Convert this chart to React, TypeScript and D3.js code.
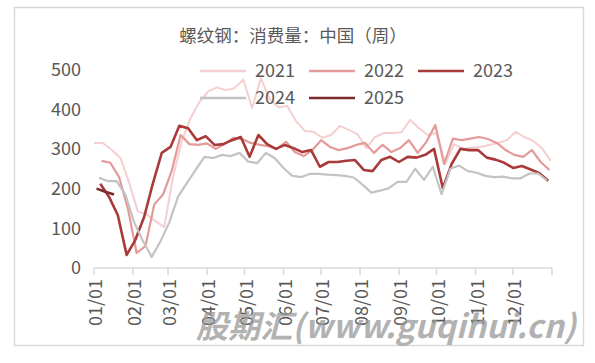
import React, { useEffect, useRef } from 'react';
import * as d3 from 'd3';

// weekly consumption, each year starts on its first Friday
const years = ['2021', '2022', '2023', '2024', '2025'];
const firstDates = ['2021-01-01', '2022-01-07', '2023-01-06', '2024-01-05', '2025-01-03'];
const colors = ['#f5cfcf', '#e39a99', '#a83a3a', '#c3c3c3', '#7a2b2b'];
const widths = [2, 2.2, 2.6, 2.2, 2.6];

const v2021 = [315, 315, 298, 278, 215, 142, 135, 118, 103, 230, 320, 378, 418, 445, 455, 448, 453, 475, 403, 478,
  425, 405, 408, 370, 345, 343, 328, 335, 358, 348, 337, 302, 330, 340, 340, 342, 373, 352, 335, 340,
  262, 312, 300, 303, 305, 310, 315, 322, 343, 330, 320, 302, 270];
const v2022 = [270, 265, 229, 150, 38, 55, 160, 185, 245, 335, 312, 310, 314, 300, 312, 328, 325, 315, 310, 307,
  300, 318, 292, 282, 297, 322, 305, 297, 302, 310, 315, 290, 310, 292, 302, 322, 290, 318, 360, 262,
  326, 322, 326, 330, 325, 315, 297, 285, 280, 297, 267, 247];
const v2023 = [212, 179, 133, 33, 71, 129, 214, 290, 305, 358, 352, 322, 332, 310, 312, 322, 330, 280, 335, 312,
  300, 310, 302, 292, 297, 255, 267, 267, 270, 272, 247, 244, 272, 280, 267, 280, 278, 285, 300, 201,
  262, 300, 297, 297, 278, 273, 265, 252, 257, 248, 239, 220];
const v2024 = [227, 219, 219, 185, 115, 68, 28, 67, 115, 180, 214, 247, 280, 277, 285, 282, 290, 268, 264, 290,
  277, 252, 232, 229, 237, 237, 235, 234, 232, 228, 210, 190, 195, 201, 217, 217, 250, 222, 255, 186,
  250, 258, 244, 240, 232, 229, 230, 226, 226, 238, 238, 220];
const v2025 = [200, 192, 185];
const seriesValues = [v2021, v2022, v2023, v2024, v2025];

const monthTicks = ['01/01', '02/01', '03/01', '04/01', '05/01', '06/01', '07/01', '08/01', '09/01', '10/01', '11/01', '12/01'];
const yTicks = [0, 100, 200, 300, 400, 500];

const title = '螺纹钢：消费量：中国（周）';
const watermark = '股期汇(www.guqihui.cn)';

const W = 595;
const H = 363;

const dayOfYear = (s: string) => {
  const d = new Date(s + 'T00:00:00Z');
  const start = Date.UTC(d.getUTCFullYear(), 0, 1);
  return Math.round((d.getTime() - start) / 86400000);
};

const App: React.FC = () => {
  const svgRef = useRef<SVGSVGElement>(null);

  useEffect(() => {
    if (!svgRef.current) return;
    const svg = d3.select(svgRef.current);
    svg.selectAll('*').remove();

    const font = '"Noto Sans CJK SC", "Noto Sans", sans-serif';
    const textColor = '#595959';

    const x = d3.scaleLinear().domain([0, 365]).range([94, 552]);
    const y = d3.scaleLinear().domain([0, 500]).range([268, 69.5]);

    // outer frame
    svg.append('rect')
      .attr('x', 14.5).attr('y', 7.5)
      .attr('width', 569).attr('height', 338)
      .attr('fill', '#fff')
      .attr('stroke', '#d9d9d9')
      .attr('stroke-width', 1.5);

    // title
    svg.append('text')
      .attr('x', 293).attr('y', 42)
      .attr('text-anchor', 'middle')
      .style('font-family', font)
      .style('font-size', '17.5px')
      .style('fill', textColor)
      .text(title);

    // y labels
    svg.selectAll('.ylab')
      .data(yTicks)
      .enter()
      .append('text')
      .attr('x', 81)
      .attr('y', d => y(d))
      .attr('dy', '0.35em')
      .attr('text-anchor', 'end')
      .style('font-family', font)
      .style('font-size', '18px')
      .style('fill', textColor)
      .text(d => d);

    // x axis
    const tickDays = monthTicks.map(m => dayOfYear('2021-' + m.replace('/', '-')));
    svg.append('line')
      .attr('x1', x(0)).attr('x2', x(365))
      .attr('y1', 268).attr('y2', 268)
      .attr('stroke', '#d9d9d9').attr('stroke-width', 1.5);
    svg.selectAll('.xtick')
      .data([...tickDays, 365])
      .enter()
      .append('line')
      .attr('x1', d => x(d)).attr('x2', d => x(d))
      .attr('y1', 268).attr('y2', 275)
      .attr('stroke', '#d9d9d9').attr('stroke-width', 1.5);
    svg.selectAll('.xlab')
      .data(monthTicks)
      .enter()
      .append('text')
      .attr('transform', (d, i) => `translate(${x(tickDays[i]) + 2},279) rotate(-90)`)
      .attr('dy', '0.35em')
      .attr('text-anchor', 'end')
      .style('font-family', font)
      .style('font-size', '18px')
      .style('fill', textColor)
      .text(d => d);

    // series lines
    const line = d3.line<[number, number]>()
      .x(d => x(d[0]))
      .y(d => y(d[1]));

    seriesValues.forEach((vals, si) => {
      const start = dayOfYear(firstDates[si]);
      const pts: [number, number][] = vals.map((v, i) => [start + i * 7, v]);
      svg.append('path')
        .datum(pts)
        .attr('d', line)
        .attr('fill', 'none')
        .attr('stroke', colors[si])
        .attr('stroke-width', widths[si])
        .attr('stroke-linejoin', 'round');
    });

    // legend
    const legendPos = [[200, 71], [309, 71], [418, 71], [200, 98], [309, 98]];
    years.forEach((yr, i) => {
      const [lx, ly] = legendPos[i];
      svg.append('line')
        .attr('x1', lx).attr('x2', lx + 46)
        .attr('y1', ly).attr('y2', ly)
        .attr('stroke', colors[i])
        .attr('stroke-width', 2.6);
      svg.append('text')
        .attr('x', lx + 55).attr('y', ly)
        .attr('dy', '0.35em')
        .style('font-family', font)
        .style('font-size', '18px')
        .style('fill', textColor)
        .text(yr);
    });

    // watermark
    svg.append('text')
      .attr('x', 196).attr('y', 338)
      .attr('textLength', 380)
      .attr('lengthAdjust', 'spacingAndGlyphs')
      .style('font-family', font)
      .style('font-size', '32px')
      .style('font-weight', 'bold')
      .style('font-style', 'italic')
      .style('fill', '#999999')
      .style('fill-opacity', 0.75)
      .text(watermark);
  }, []);

  return (
    <svg
      ref={svgRef}
      width={W}
      height={H}
      style={{ position: 'absolute', left: 0, top: 0, background: '#fff' }}
    />
  );
};

export default App;
